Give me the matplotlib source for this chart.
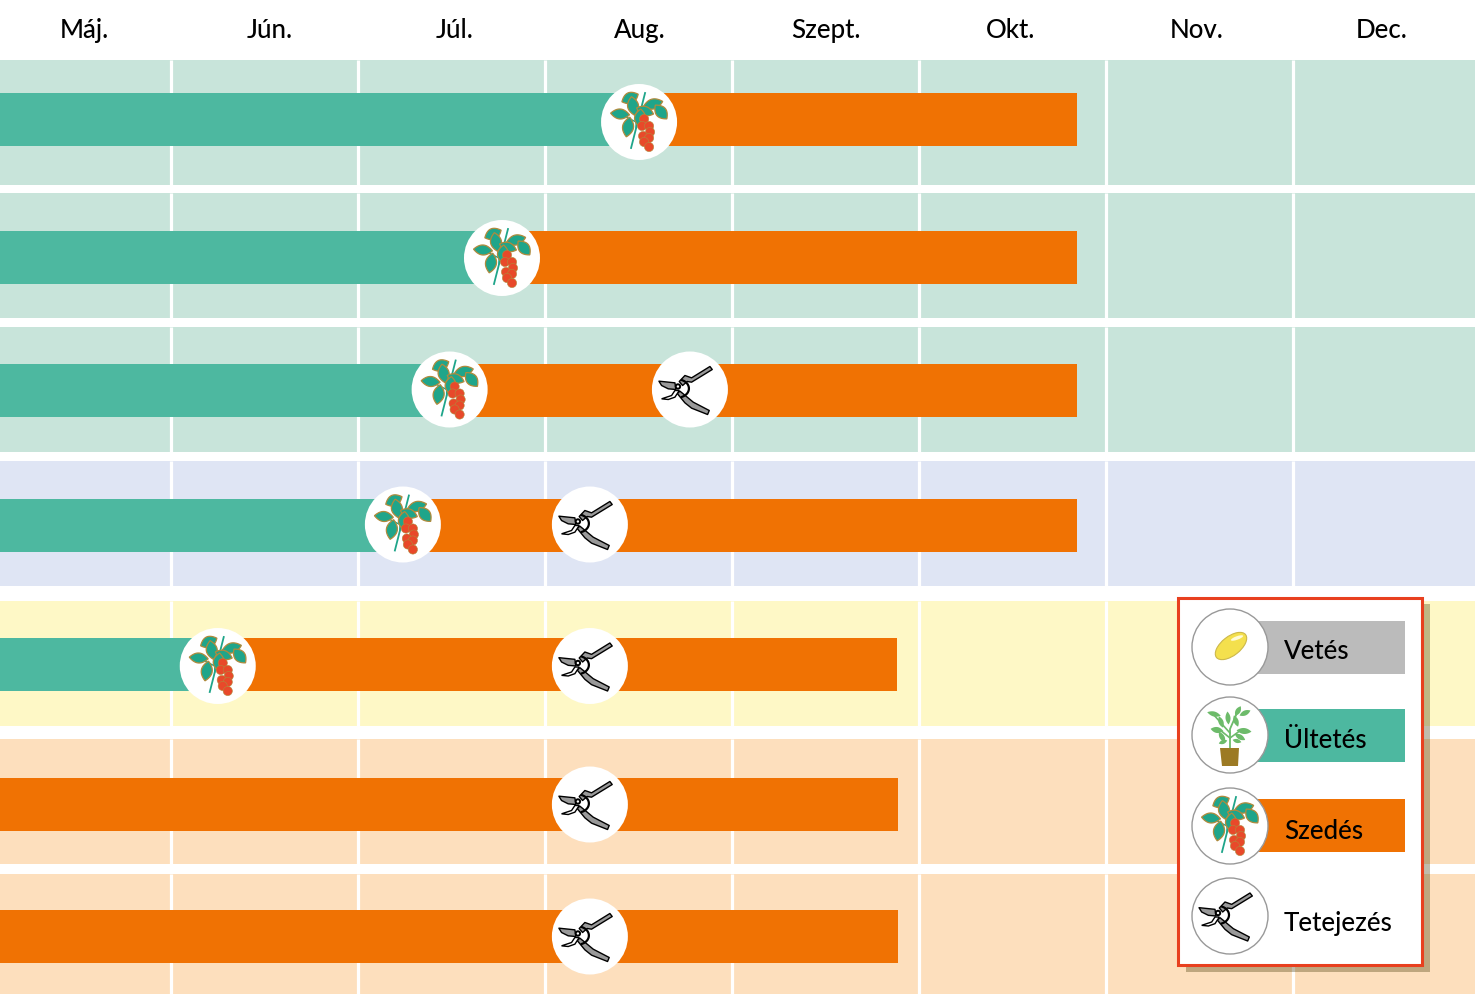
import numpy as np
import matplotlib
matplotlib.use("Agg")
import matplotlib.pyplot as plt
from matplotlib.patches import Circle, Polygon, Rectangle, Ellipse

plt.rcParams['font.family'] = ['Lato', 'DejaVu Sans']

months = ['Máj.', 'Jún.', 'Júl.', 'Aug.', 'Szept.', 'Okt.', 'Nov.', 'Dec.']

# everything in months counted from 1 May
planting_end = [3.503, 2.77, 2.49, 2.24, 1.25, 0, 0]
harvest_end = [5.845, 5.845, 5.845, 5.845, 4.88, 4.89, 4.89]
topping = [None, None, 3.775, 3.24, 3.24, 3.24, 3.24]

legend_names = ['Vetés', 'Ültetés', 'Szedés', 'Tetejezés']
legend_colors = ['#BBBBBB', '#4DB8A0', '#F07203', None]

GREEN = '#C8E4DA'
BLUE = '#DFE5F4'
YELLOW = '#FEF8C6'
PEACH = '#FDDFBD'
band_colors = [GREEN, GREEN, GREEN, BLUE, YELLOW, PEACH, PEACH]

# layout, pixels
band_top = [60, 193, 327, 461, 601, 739, 874]
band_bot = [185, 318, 452, 586, 726, 864, 994]
bar_top = [93, 231, 364, 499, 638, 778, 910]
bar_h = 53
icon_y = [122, 258, 389.5, 524.5, 666, 804.5, 936.5]
R = 38

fig = plt.figure(figsize=(14.75, 9.94), dpi=100)
ax = fig.add_axes([0, 0, 1, 1])
ax.set_xlim(16 / 187, 1491 / 187)
ax.set_ylim(994, 0)
ax.axis('off')

# second axes in plain pixels for the little drawings
ov = fig.add_axes([0, 0, 1, 1], facecolor='none')
ov.set_xlim(0, 1475)
ov.set_ylim(994, 0)
ov.axis('off')


def month_px(m):
    return ax.transData.transform((m, 0))[0]


for i in range(7):
    ax.fill_betweenx([band_top[i], band_bot[i]], 0, 9, color=band_colors[i], lw=0, zorder=1)
    ax.vlines(range(1, 8), band_top[i], band_bot[i], color='white', lw=2.3, zorder=2)
    ax.barh(bar_top[i] + bar_h / 2, planting_end[i], height=bar_h, color='#4DB8A0', zorder=3)
    ax.barh(bar_top[i] + bar_h / 2, harvest_end[i] - planting_end[i], left=planting_end[i],
            height=bar_h, color='#F07203', zorder=3)

for i, m in enumerate(months):
    ov.text(84 + i * 185.4, 38, m, ha='center', va='baseline', fontsize=18.6, fontweight='medium', color='black')


def lens(cx, cy, length, width, angle):
    t = np.linspace(-1, 1, 15)
    up = width / 2 * (1 - t ** 2)
    xs = np.r_[t * length / 2, t[::-1] * length / 2]
    ys = np.r_[up, -up[::-1]]
    a = np.radians(angle)
    return np.c_[cx + xs * np.cos(a) - ys * np.sin(a), cy + xs * np.sin(a) + ys * np.cos(a)]


def draw_tomato(cx, cy, z=6):
    ov.plot([cx + 6, cx - 8], [cy - 29, cy + 26], color='#1FA58A', lw=1.3, zorder=z)
    ov.plot([cx - 13, cx - 3, cx - 3], [cy - 5, cy, cy + 6], color='#1FA58A', lw=1, zorder=z)
    leaves = [(-9, -24, 18, 11, -25), (-6, -16, 19, 11, 80), (-19, -8, 19, 10, 5),
              (-11, 5, 20, 11, 100), (14, -18, 20, 10, -15), (6, -11, 18, 9, 20),
              (22, -10, 18, 11, 50), (1, -4, 18, 11, 95)]
    for lx, ly, ll, lw_, ang in leaves:
        ov.add_patch(Polygon(lens(cx + lx, cy + ly, ll, lw_, ang), fc='#1FA58A', ec='#B08A3C',
                             lw=0.9, zorder=z))
    fruit = [(5, -3), (3, 4), (10, 4), (11, 10), (4, 14), (10, 16), (5, 20), (10, 25)]
    for fx, fy in fruit:
        ov.add_patch(Circle((cx + fx, cy + fy), 4.6, fc='#E8492A', ec='#B08A3C', lw=0.4, zorder=z + 1))


def draw_pruner(cx, cy, z=6):
    # outlines noted at 3x around the circle centre
    def pts(p):
        return np.array(p) / 3 + [cx, cy]
    upper = [(-32, -24), (-15, -42), (5, -35), (60, -69), (67, -60), (5, -22), (-8, -24), (-22, -12)]
    lower = [(-30, 5), (-14, 18), (10, 38), (58, 63), (53, 75), (5, 56), (-15, 40), (-38, 12)]
    blade1 = [(-93, -25), (-45, -20), (-42, 0), (-65, -2), (-85, -12)]
    blade2 = [(-85, 28), (-55, 18), (-45, 3), (-32, 3), (-45, 23), (-65, 30)]
    for p in (upper, lower, blade1):
        ov.add_patch(Polygon(pts(p), fc='#999999', ec='black', lw=1, joinstyle='round', zorder=z))
    ov.add_patch(Polygon(pts(blade2), fc='white', ec='black', lw=1, zorder=z))
    t = np.linspace(-1.2, 1.2, 20)
    ov.plot(cx - 12 + 11 * np.cos(t), cy - 1 + 9 * np.sin(t), color='black', lw=1.6, zorder=z + 1)
    ov.add_patch(Circle((cx - 12, cy - 3), 3.2, fc='black', ec='none', zorder=z + 1))
    ov.add_patch(Circle((cx - 12, cy - 3), 1.2, fc='white', ec='none', zorder=z + 2))


def draw_seed(cx, cy, z=6):
    ov.add_patch(Ellipse((cx + 1, cy - 1), 37, 19, angle=-38, fc='#F4E04D', ec='#CDB84A', lw=0.8, zorder=z))
    ov.add_patch(Ellipse((cx + 7, cy - 9), 13, 3.5, angle=-20, fc='#FFFBD8', ec='none', zorder=z + 1))


def draw_plant(cx, cy, z=6):
    c = '#6DBB6A'
    ov.plot([cx, cx, cx + 7], [cy + 13, cy - 6, cy - 22], color=c, lw=1.3, zorder=z)
    ov.plot([cx, cx - 9, cx - 17], [cy - 2, cy - 12, cy - 21], color=c, lw=1.2, zorder=z)
    ov.plot([cx, cx + 11], [cy + 3, cy - 5], color=c, lw=1.2, zorder=z)
    ov.plot([cx, cx - 10], [cy + 3, cy - 5], color=c, lw=1.2, zorder=z)
    leaves = [(-16, -21, 14, 5, 15), (-9, -13, 12, 5, 70), (-2, -17, 13, 5, 85), (8, -24, 11, 5, -60),
              (15, -22, 12, 5, -25), (6, -14, 12, 5, 70), (-13, -5, 13, 6, 10), (-8, 2, 12, 5, 60),
              (14, -4, 15, 6, 5), (10, 2, 12, 5, 30), (-7, 7, 9, 4, -20), (7, 6, 9, 4, 15)]
    for lx, ly, ll, lw_, ang in leaves:
        ov.add_patch(Polygon(lens(cx + lx, cy + ly, ll, lw_, ang), fc=c, ec='none', zorder=z))
    ov.add_patch(Polygon([(cx - 10, cy + 13), (cx + 9, cy + 13), (cx + 8, cy + 31), (cx - 8, cy + 31)],
                         fc='#9C7A24', ec='none', zorder=z))


# icons on the bars
for i in range(7):
    if planting_end[i] > 0:
        x = month_px(planting_end[i])
        ov.add_patch(Circle((x, icon_y[i]), R, fc='white', ec='none', zorder=5))
        draw_tomato(x, icon_y[i])
    if topping[i] is not None:
        x = month_px(topping[i])
        ov.add_patch(Circle((x, icon_y[i]), R, fc='white', ec='none', zorder=5))
        draw_pruner(x, icon_y[i])

# legend box
ov.add_patch(Rectangle((1186, 604), 244, 368, fc=(0.25, 0.2, 0), alpha=0.33, ec='none', zorder=8))
ov.add_patch(Rectangle((1178.3, 597.5), 243.5, 367, fc='white', ec='#E8401F', lw=2.2, zorder=9))

leg_bar_top = [621, 709, 799]
leg_icon_y = [647, 735, 826, 916]
leg_text_y = [659, 748, 839, 931]
icons = [draw_seed, draw_plant, draw_tomato, draw_pruner]
for i, name in enumerate(legend_names):
    if legend_colors[i]:
        ov.add_patch(Rectangle((1230, leg_bar_top[i]), 175, 53, fc=legend_colors[i], ec='none', zorder=10))
    ov.add_patch(Circle((1230, leg_icon_y[i]), R, fc='white', ec='#999999', lw=1, zorder=11))
    icons[i](1230, leg_icon_y[i], z=12)
    ov.text(1284, leg_text_y[i], name, ha='left', va='baseline', fontsize=18.6, fontweight='medium',
            color='black', zorder=14)

fig.savefig('out.png', dpi=100)
